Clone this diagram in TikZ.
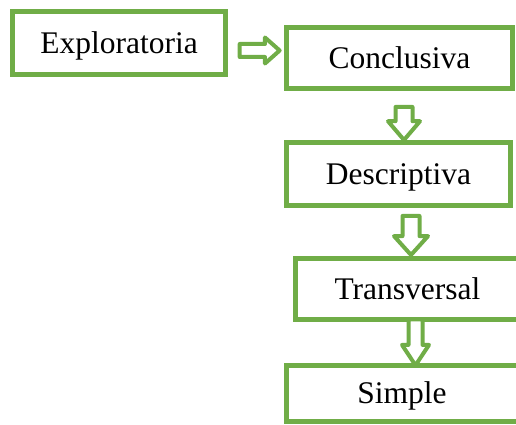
\documentclass[tikz,border=0pt]{standalone}
\usepackage{fontspec}
\setmainfont{Liberation Serif}
\usetikzlibrary{calc,positioning,shapes.arrows}
\definecolor{hojaverde}{RGB}{112,173,71}
\tikzset{
	caja/.style={draw=hojaverde, line width=5pt, fill=white, inner sep=0pt,
		text height=21pt, text depth=0pt, font=\fontsize{31.5}{36}\selectfont},
	flecha/.style={single arrow, draw=hojaverde, fill=white, line width=4pt,
		line join=round, inner xsep=0pt, single arrow head indent=0pt}
}

\begin{document}
\begin{tikzpicture}[x=1pt, y=-1pt]
		%%%%% START %%%%%
		\useasboundingbox (0, 0) rectangle (516, 425);
		
		\node[caja, minimum width=213pt, minimum height=63pt] (expl) at (119, 43) {Exploratoria};
		\node[caja, minimum width=226pt, minimum height=61pt] (concl) at (399.5, 58) {Conclusiva};
		\node[caja, minimum width=224pt, minimum height=63pt] (desc) at (398.5, 174) {Descriptiva};
		\node[caja, minimum width=225pt, minimum height=61pt] (trans) at (407.5, 288.5) {Transversal};
		\node[caja, minimum width=232pt, minimum height=56pt] (simple) at (402, 393) {Simple};
		
		% flechas
		\node[flecha, minimum height=40pt, inner ysep=4.5pt, single arrow head extend=6.5pt,
			single arrow tip angle=83] (f1) at ($(expl.east)!0.5!(concl.west)$) {};
		\node[flecha, rotate=-90, minimum height=33pt, inner ysep=6.5pt, single arrow head extend=7.5pt,
			single arrow tip angle=81, xshift=3pt, yshift=5pt] (f2) at ($(concl.south)!0.5!(desc.north)$) {};
		\node[flecha, rotate=-90, minimum height=39pt, inner ysep=6.5pt, single arrow head extend=8.5pt,
			single arrow tip angle=84, xshift=-1pt, yshift=8pt] (f3) at ($(desc.south)!0.5!(trans.north)$) {};
		\node[flecha, rotate=-90, minimum height=46pt, inner ysep=5pt, single arrow head extend=6.5pt,
			single arrow tip angle=67, xshift=-5pt, yshift=10.75pt] (f4) at ($(trans.south)!0.5!(simple.north)$) {};
		
		%%%%% END %%%%%
	\end{tikzpicture}
\end{document}
